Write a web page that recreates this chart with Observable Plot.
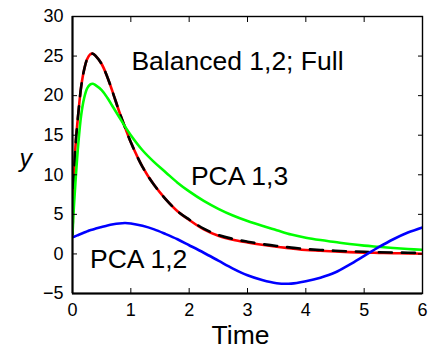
<!DOCTYPE html>
<html>
<head>
<meta charset="utf-8">
<script src="https://cdn.jsdelivr.net/npm/d3@7"></script>
<script src="https://cdn.jsdelivr.net/npm/@observablehq/plot@0.6"></script>
<style>
  html, body { margin: 0; padding: 0; background: #fff; }
  #chart svg { display: block; }
</style>
</head>
<body>
<div id="chart"></div>
<script>
const time = [0, 0.02, 0.05, 0.1, 0.15, 0.2, 0.25, 0.3, 0.35, 0.4, 0.5, 0.6, 0.7, 0.8, 0.9, 1.0, 1.2, 1.4, 1.6, 1.8, 2.0, 2.25, 2.5, 2.75, 3.0, 3.25, 3.5, 3.75, 4.0, 4.25, 4.5, 4.75, 5.0, 5.25, 5.5, 5.75, 6.0];
const full = [2.5, 8.5, 13.5, 17.8, 21.2, 23.3, 24.6, 25.2, 25.3, 25.0, 24.0, 22.3, 20.2, 18.0, 16.0, 14.1, 11.0, 8.7, 6.9, 5.4, 4.3, 3.1, 2.3, 1.8, 1.45, 1.15, 0.9, 0.7, 0.5, 0.4, 0.3, 0.23, 0.17, 0.13, 0.09, 0.06, 0.03];
const balanced = [2.5, 8.5, 13.5, 17.8, 21.2, 23.3, 24.6, 25.2, 25.3, 25.0, 24.0, 22.3, 20.2, 18.0, 16.0, 14.1, 11.0, 8.7, 6.9, 5.4, 4.35, 3.2, 2.4, 1.9, 1.55, 1.25, 1.0, 0.8, 0.62, 0.5, 0.4, 0.33, 0.27, 0.22, 0.18, 0.15, 0.12];
const pca13 = [2.5, 5.5, 9.0, 14.0, 17.6, 19.7, 20.9, 21.4, 21.5, 21.3, 20.7, 19.7, 18.5, 17.3, 16.1, 15.0, 13.1, 11.6, 10.3, 9.0, 7.9, 6.7, 5.7, 4.85, 4.15, 3.55, 3.0, 2.45, 2.05, 1.75, 1.5, 1.25, 1.05, 0.9, 0.75, 0.62, 0.52];
const pca12 = [2.1, 2.15, 2.25, 2.4, 2.55, 2.7, 2.85, 3.0, 3.1, 3.2, 3.4, 3.6, 3.75, 3.85, 3.9, 3.85, 3.55, 3.1, 2.5, 1.85, 1.1, 0.15, -0.85, -1.85, -2.7, -3.3, -3.7, -3.75, -3.45, -3.0, -2.35, -1.35, -0.25, 0.85, 1.85, 2.7, 3.35];

const xTicks = [0, 1, 2, 3, 4, 5, 6];
const yTicks = [-5, 0, 5, 10, 15, 20, 25, 30];

const annotations = [
  {label: "Balanced 1,2; Full", t: 1.01, v: 24.3},
  {label: "PCA 1,3", t: 2.03, v: 9.75},
  {label: "PCA 1,2", t: 0.30, v: -0.75}
];

const font = "Liberation Sans, Arial, sans-serif";
const lw = 2.6;

const chart = Plot.plot({
  width: 429,
  height: 355,
  marginLeft: 72,
  marginRight: 7,
  marginTop: 16,
  marginBottom: 62,
  style: {fontFamily: font, fontSize: "18px", color: "black", background: "white"},
  x: {domain: [0, 6], ticks: xTicks},
  y: {domain: [-5, 30], ticks: yTicks},
  marks: [
    Plot.line(time, {x: d => d, y: (d, i) => full[i], stroke: "#ff0000", strokeWidth: lw, curve: "catmull-rom", clip: true}),
    Plot.line(time, {x: d => d, y: (d, i) => balanced[i], stroke: "#000000", strokeWidth: lw, strokeDasharray: "13,10", curve: "catmull-rom", clip: true}),
    Plot.line(time, {x: d => d, y: (d, i) => pca13[i], stroke: "#00ff00", strokeWidth: lw, curve: "catmull-rom", clip: true}),
    Plot.line(time, {x: d => d, y: (d, i) => pca12[i], stroke: "#0000ff", strokeWidth: lw, curve: "catmull-rom", clip: true}),
    Plot.frame({stroke: "black", strokeWidth: 1.4}),
    Plot.ruleX([0], {stroke: "black", strokeWidth: 2}),
    Plot.ruleY([-5], {stroke: "black", strokeWidth: 2}),
    Plot.axisX(xTicks, {anchor: "bottom", tickSize: 0, tickPadding: 10, label: null, fontSize: 18}),
    Plot.axisY(yTicks, {anchor: "left", tickSize: 0, tickPadding: 9, label: null, fontSize: 18}),
    Plot.axisX(xTicks, {anchor: "bottom", tickSize: -5, tickFormat: () => "", label: null}),
    Plot.axisX(xTicks, {anchor: "top", tickSize: -5, tickFormat: () => "", label: null}),
    Plot.axisY(yTicks, {anchor: "left", tickSize: -5, tickFormat: () => "", label: null}),
    Plot.axisY(yTicks, {anchor: "right", tickSize: -5, tickFormat: () => "", label: null}),
    Plot.text(annotations, {x: "t", y: "v", text: "label", textAnchor: "start", fontSize: 26.5, fill: "black"}),
    Plot.text(["Time"], {frameAnchor: "bottom", dx: -7, dy: 50, fontSize: 26.5, fill: "black"}),
    Plot.text(["y"], {frameAnchor: "left", dx: -53, dy: 4, fontSize: 25, fontStyle: "italic", fill: "black"})
  ]
});
document.getElementById("chart").appendChild(chart);
</script>
</body>
</html>
